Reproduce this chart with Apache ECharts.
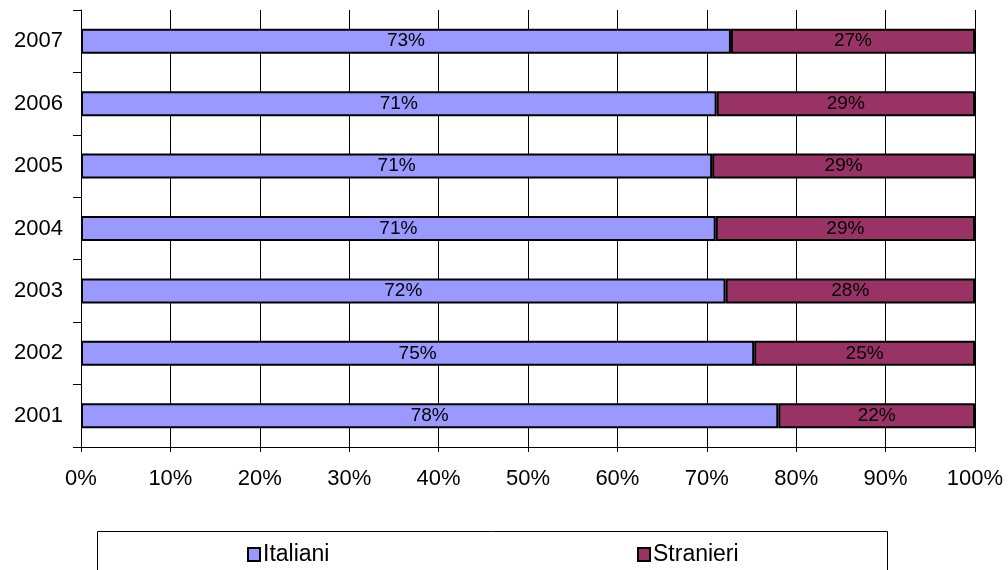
<!DOCTYPE html>
<html>
<head>
<meta charset="utf-8">
<script src="https://cdn.jsdelivr.net/npm/echarts@6/dist/echarts.min.js"></script>
<style>html,body{margin:0;padding:0;background:#fff;}#c{width:1008px;height:570px;}</style>
</head>
<body>
<div id="c"></div>
<script>
var categories = ['2001', '2002', '2003', '2004', '2005', '2006', '2007'];
var italiani = [78.0, 75.3, 72.1, 71.0, 70.6, 71.1, 72.7];
var stranieri = [22.0, 24.7, 27.9, 29.0, 29.4, 28.9, 27.3];
var seriesNames = ['Italiani', 'Stranieri'];
var xTicks = [0, 10, 20, 30, 40, 50, 60, 70, 80, 90, 100];

var FONT = '"Liberation Sans", Arial, sans-serif';
var chart = echarts.init(document.getElementById('c'), null, {renderer: 'canvas'});
function lbl(p) { return Math.round(p.value) + '%'; }
var barStyle = function (color) {
  return { color: color, borderColor: '#000', borderWidth: 2 };
};
chart.setOption({
  animation: false,
  backgroundColor: '#fff',
  textStyle: { fontFamily: FONT },
  grid: { left: 81, right: 33, top: 10, bottom: 123, containLabel: false },
  xAxis: {
    type: 'value', min: xTicks[0], max: xTicks[xTicks.length - 1], interval: 10,
    axisLine: { show: true, lineStyle: { color: '#000', width: 1 } },
    axisTick: { show: true, length: 5, lineStyle: { color: '#000' } },
    splitLine: { show: true, lineStyle: { color: '#000', width: 1 } },
    axisLabel: { formatter: '{value}%', color: '#000', fontSize: 22, margin: 21, fontFamily: FONT }
  },
  yAxis: {
    type: 'category', data: categories,
    axisLine: { show: true, lineStyle: { color: '#000', width: 1 } },
    axisTick: { show: true, length: 8, inside: false, alignWithLabel: false, lineStyle: { color: '#000' } },
    axisLabel: { color: '#000', fontSize: 22, margin: 18, fontFamily: FONT }
  },
  legend: [
    { data: [{ name: seriesNames[0], icon: 'rect' }], left: 242, top: 538, itemWidth: 12, itemHeight: 13, itemGap: 6,
      textStyle: { fontSize: 23, color: '#000', fontFamily: FONT, padding: [0, 0, 0, -2] } },
    { data: [{ name: seriesNames[1], icon: 'rect' }], left: 632, top: 538, itemWidth: 12, itemHeight: 13, itemGap: 6,
      textStyle: { fontSize: 23, color: '#000', fontFamily: FONT, padding: [0, 0, 0, -2] } }
  ],
  graphic: [
    { type: 'rect', shape: { x: 97.5, y: 531.5, width: 790, height: 60 },
      style: { fill: 'none', stroke: '#000', lineWidth: 1 }, z: -1 }
  ],
  series: [
    { name: seriesNames[0], type: 'bar', stack: 'a', data: italiani, barWidth: 25,
      itemStyle: barStyle('#9999FF'),
      label: { show: true, position: 'inside', formatter: lbl, color: '#000', fontSize: 19, fontFamily: FONT } },
    { name: seriesNames[1], type: 'bar', stack: 'a', data: stranieri, barWidth: 25,
      itemStyle: barStyle('#993366'),
      label: { show: true, position: 'inside', formatter: lbl, color: '#000', fontSize: 19, fontFamily: FONT } }
  ]
});
</script>
</body>
</html>
